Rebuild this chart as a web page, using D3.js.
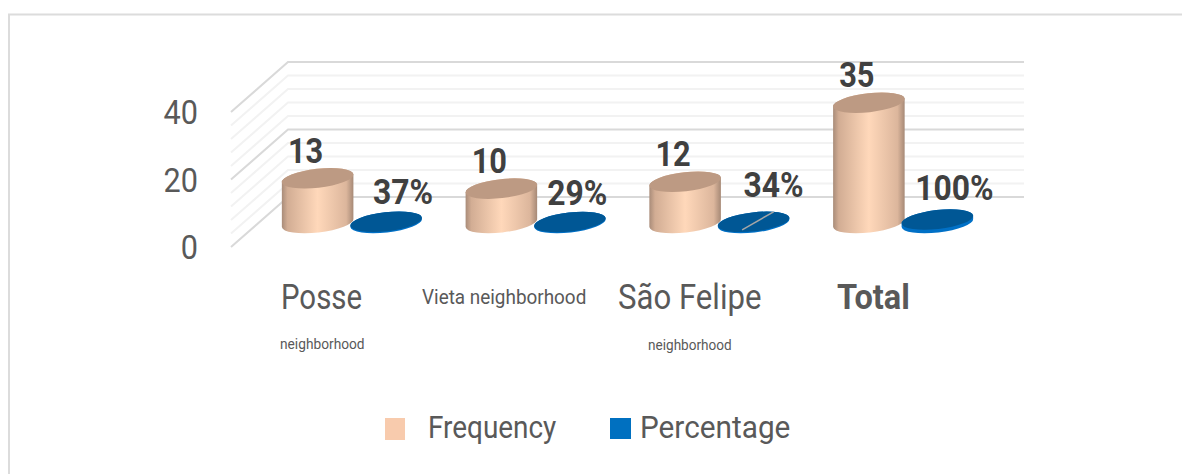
<!DOCTYPE html>
<html><head><meta charset="utf-8">
<script src="https://cdn.jsdelivr.net/npm/d3@7"></script>
<style>html,body{margin:0;padding:0;background:#fff}svg{display:block}text{font-family:Roboto,sans-serif}</style>
</head><body><svg id="c" width="1182" height="474"></svg>
<script>
const categories = ["Posse neighborhood","Vieta neighborhood","São Felipe neighborhood","Total"];
const seriesNames = ["Frequency","Percentage"];
const frequency = [13,10,12,35];
const percentage = [0.37,0.29,0.34,1];
const percentageLabels = ["37%","29%","34%","100%"];
const tickValues = [0,20,40];
const gridValues = [0,4,8,12,16,20,24,28,32,36,40];

const W=1182,H=474, svg=d3.select("#c");
const defs=svg.append("defs");
const grad=defs.append("linearGradient").attr("id","peach");
[[0,"#a98c79"],[.08,"#d2ad94"],[.5,"#ffd8ba"],[.9,"#dcb69c"],[1,"#a68976"]].forEach(s=>grad.append("stop").attr("offset",s[0]).attr("stop-color",s[1]));

// condense a text horizontally to mimic the narrow source lettering
function squeeze(sel,f){sel.each(function(){const n=this.getComputedTextLength();d3.select(this).attr("textLength",n*f).attr("lengthAdjust","spacingAndGlyphs");});}

// frame
svg.append("path").attr("d","M9,474V14.5H1182").attr("fill","none").attr("stroke","#dcdcdc").attr("stroke-width",2);

// walls
const yBack=d3.scaleLinear().domain([0,40]).range([197,62]);
const yFront=d3.scaleLinear().domain([0,40]).range([247,112]);
const wallX=[231,288,1024];
const grid=svg.append("g").attr("fill","none");
grid.selectAll("path").data(gridValues).join("path")
 .attr("d",v=>`M${wallX[0]},${yFront(v)}L${wallX[1]},${yBack(v)}H${wallX[2]}`)
 .attr("stroke",v=>tickValues.includes(v)?"#d9d9d9":"#f2f2f2")
 .attr("stroke-width",2);

// tick labels
const ax=svg.append("g").attr("transform","translate(198,1)").call(d3.axisLeft(yFront).tickValues(tickValues).tickSize(0).tickPadding(0));
ax.select(".domain").remove();
ax.selectAll("text").attr("fill","#595959").style("font-size","34px").style("font-family","Roboto").call(squeeze,.9);

// bars
const x=d3.scaleBand().domain(categories).range([260,995]);
const xs=d3.scalePoint().domain(seriesNames).range([-34.25,34.25]);
const y=d3.scaleLinear().domain([0,40]).range([223,85.5]);
const rx=36, ry=9.5, rot=-6.5, dyEnd=rx*Math.sin(-rot*Math.PI/180), dxEnd=rx*Math.cos(rot*Math.PI/180);
function ell(cx,cy){return `M${cx-dxEnd},${cy+dyEnd}A${rx},${ry} ${rot} 1 1 ${cx+dxEnd},${cy-dyEnd}A${rx},${ry} ${rot} 1 1 ${cx-dxEnd},${cy+dyEnd}Z`;}
function body(cx,top,bot){return `M${cx-dxEnd},${top+dyEnd}A${rx},${ry} ${rot} 0 1 ${cx+dxEnd},${top-dyEnd}V${bot-dyEnd}A${rx},${ry} ${rot} 0 1 ${cx-dxEnd},${bot+dyEnd}Z`;}
const cxAt=(c,s)=>x(c)+x.bandwidth()/2+xs(s);

const fq=svg.append("g").selectAll("g").data(categories).join("g");
fq.append("path").attr("fill","url(#peach)").attr("d",(c,i)=>body(cxAt(c,"Frequency"),y(frequency[i]),y(0)));
fq.append("path").attr("fill","#bd9a83").attr("d",(c,i)=>ell(cxAt(c,"Frequency"),y(frequency[i])));

const pc=svg.append("g").selectAll("g").data(categories).join("g");
pc.append("path").attr("fill","#0070c6").attr("d",(c,i)=>body(cxAt(c,"Percentage"),y(percentage[i]),y(0)));
pc.append("path").attr("fill","#005795").attr("d",(c,i)=>ell(cxAt(c,"Percentage"),y(percentage[i])));

// leader line on the third percentage label
const c3=cxAt(categories[2],"Percentage");
svg.append("line").attr("x1",c3-11.5).attr("y1",y(percentage[2])+8).attr("x2",c3+20).attr("y2",y(percentage[2])-10).attr("stroke","#a6a6a6").attr("stroke-width",1.5);

// data labels
const pctNudge=[[17,-17],[7.5,-16],[20,-24],[17,-21]];
svg.append("g").selectAll("text").data(categories).join("text")
 .attr("x",c=>cxAt(c,"Frequency")-12).attr("y",(c,i)=>y(frequency[i])-15.5)
 .attr("text-anchor","middle").attr("font-weight",700).attr("font-size",35).attr("fill","#404040")
 .text((c,i)=>frequency[i]).call(squeeze,.88);
svg.append("g").selectAll("text").data(categories).join("text")
 .attr("x",(c,i)=>cxAt(c,"Percentage")+pctNudge[i][0]).attr("y",(c,i)=>y(0)-2+pctNudge[i][1])
 .attr("text-anchor","middle").attr("font-weight",700).attr("font-size",35).attr("fill","#404040")
 .text((c,i)=>percentageLabels[i]).call(squeeze,.91);

// category labels
const catTexts=[
 {t:"Posse",x:281,y:309,s:35,w:400,f:.84},
 {t:"neighborhood",x:280,y:349,s:14,w:400,f:.98},
 {t:"Vieta neighborhood",x:422,y:304,s:21,w:400,f:.9},
 {t:"São Felipe",x:618,y:309,s:35,w:400,f:.89},
 {t:"neighborhood",x:648,y:350,s:14,w:400,f:.97},
 {t:"Total",x:837,y:309,s:35,w:700,f:.93}];
svg.append("g").selectAll("text").data(catTexts).join("text")
 .attr("x",d=>d.x).attr("y",d=>d.y).attr("font-size",d=>d.s).attr("font-weight",d=>d.w).attr("fill","#595959")
 .text(d=>d.t).each(function(d){const n=this.getComputedTextLength();d3.select(this).attr("textLength",n*d.f).attr("lengthAdjust","spacingAndGlyphs");});

// legend
const legend=svg.append("g");
legend.append("rect").attr("x",385).attr("y",418).attr("width",20).attr("height",22).attr("fill","#f8cbad");
legend.append("text").attr("x",428).attr("y",438).attr("font-size",31).attr("fill","#595959").text(seriesNames[0]).call(squeeze,.9);
legend.append("rect").attr("x",610).attr("y",418).attr("width",21).attr("height",21).attr("fill","#0070c0");
legend.append("text").attr("x",640).attr("y",438).attr("font-size",31).attr("fill","#595959").text(seriesNames[1]).call(squeeze,.96);
</script></body></html>
